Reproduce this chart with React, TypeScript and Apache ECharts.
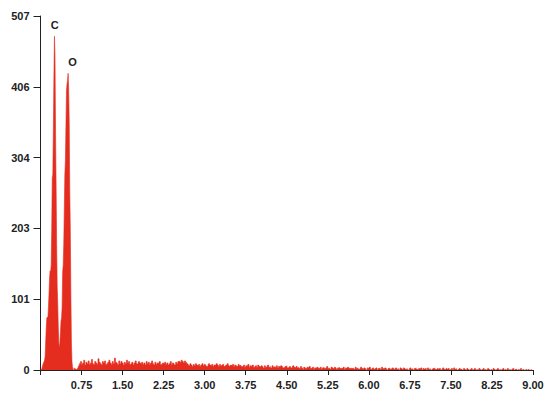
import { useEffect, useRef } from "react";
import * as echarts from "echarts";

// Spectrum channels around the C and O peaks (keV start, step, counts)
const peakStart = 0;
const peakStep = 0.01;
const peakCounts = [
  0, 0, 0, 2, 5, 8, 10, 12, 14, 20,
  40, 60, 74, 76, 74, 90, 108, 130, 142, 140,
  150, 200, 275, 280, 345, 420, 478, 450, 340, 265,
  180, 120, 95, 60, 38, 31, 40, 55, 70, 75,
  90, 140, 150, 180, 230, 280, 300, 350, 400, 410,
  415, 425, 400, 355, 255, 200, 110, 40, 12, 4,
  0, 0, 3, 0, 2, 0, 1, 0, 2, 3,
];

// Background channels after the peaks
const bgStart = 0.7;
const bgStep = 0.02;
const bg1 = [
  6, 9, 12, 8, 10, 14, 7, 11, 9, 13, 8, 10, 15, 9, 7, 12, 10, 8, 16, 11,
  9, 7, 12, 10, 13, 8, 9, 11, 14, 10, 8, 12, 9, 17, 11, 10, 8, 13, 9, 12,
  10, 7, 11, 9, 14, 10, 12, 8, 9, 11,
];
const bg2 = [
  7, 10, 13, 9, 8, 12, 10, 9, 11, 8, 10, 7, 12, 9, 11, 8, 10, 13, 9, 7,
  11, 8, 10, 9, 12, 8, 7, 10, 9, 11, 8, 10, 7, 9, 12, 8, 10, 9, 7, 11,
  9, 12, 13, 11, 14, 12, 10, 13, 11, 9,
];
const bg3 = [
  8, 6, 9, 7, 5, 8, 6, 9, 7, 6, 8, 5, 7, 9, 6, 8, 7, 5, 6, 9,
  7, 6, 8, 5, 7, 6, 9, 7, 5, 8, 6, 7, 8, 5, 6, 7, 9, 6, 5, 7,
  6, 8, 5, 7, 6, 5, 8, 6, 7, 5,
];
const bg4 = [
  5, 7, 4, 6, 5, 8, 4, 6, 5, 7, 4, 5, 6, 4, 7, 5, 4, 6, 5, 3,
  6, 4, 5, 7, 4, 5, 3, 6, 4, 5, 4, 6, 3, 5, 4, 6, 5, 3, 4, 5,
  6, 3, 4, 5, 3, 4, 6, 4, 3, 5,
];
const bg5 = [
  3, 4, 2, 5, 3, 1, 4, 3, 2, 4, 3, 5, 2, 3, 4, 1, 3, 2, 4, 3,
  2, 4, 1, 3, 4, 2, 3, 5, 2, 3, 1, 4, 3, 2, 4, 3, 1, 3, 4, 2,
  3, 2, 4, 1, 3, 2, 4, 3, 2, 3,
];
const bg6 = [
  2, 3, 1, 4, 2, 3, 1, 2, 4, 2, 1, 3, 2, 0, 3, 2, 4, 1, 2, 3,
  1, 2, 3, 0, 2, 3, 1, 4, 2, 1, 3, 2, 0, 2, 3, 1, 2, 3, 1, 2,
  3, 1, 2, 0, 3, 2, 1, 3, 2, 1,
];
const bg7 = [
  2, 0, 1, 3, 1, 2, 0, 2, 3, 1, 0, 2, 1, 3, 0, 2, 1, 2, 0, 3,
  1, 2, 0, 1, 2, 3, 1, 0, 2, 1, 2, 0, 1, 3, 1, 0, 2, 1, 2, 0,
  1, 2, 0, 3, 1, 2, 0, 1, 2, 1,
];
const bg8 = [
  1, 0, 2, 1, 0, 2, 1, 0, 1, 2, 0, 1, 2, 0, 1, 0, 2, 1, 0, 1,
  2, 0, 1, 0, 2, 1, 0, 1, 0, 2, 1, 0, 1, 2, 0, 1, 0, 1, 2, 0,
  1, 0, 2, 0, 1, 0, 1, 2, 0, 1,
];
const bg9 = [1, 0, 1, 0, 2, 0, 1, 0, 0, 1, 0, 1, 0, 0, 1];

const xTickStep = 0.75;
const xMax = 9;
const yMax = 507;
const yTickCount = 5;

const peakLabels = [
  { name: "C", energy: 0.26, counts: 478, dx: 0 },
  { name: "O", energy: 0.51, counts: 425, dx: 4 },
];

const RED = "#e42c1f";
const FONT = "'Liberation Sans Narrow', 'Liberation Sans', Arial, sans-serif";

export default function App() {
  const ref = useRef<HTMLDivElement>(null);
  useEffect(() => {
    if (!ref.current) return;
    const chart = echarts.init(ref.current, undefined, { renderer: "svg" });
    const background = [...bg1, ...bg2, ...bg3, ...bg4, ...bg5, ...bg6, ...bg7, ...bg8, ...bg9];
    const data: [number, number][] = [];
    peakCounts.forEach((c, i) => data.push([+(peakStart + i * peakStep).toFixed(3), c]));
    background.forEach((c, i) => data.push([+(bgStart + i * bgStep).toFixed(3), c]));

    chart.setOption({
      animation: false,
      grid: { left: 40.5, right: 17, top: 16, bottom: 35 },
      xAxis: {
        type: "value",
        min: 0,
        max: xMax,
        interval: xTickStep,
        axisLine: { lineStyle: { color: "#222", width: 1 } },
        axisTick: { length: 5, lineStyle: { color: "#222" } },
        splitLine: { show: false },
        axisLabel: {
          color: "#222",
          fontWeight: "bold",
          fontSize: 11,
          fontFamily: FONT,
          margin: 9,
          formatter: (v: number) => (v === 0 ? "" : v.toFixed(2)),
        },
      },
      yAxis: {
        type: "value",
        min: 0,
        max: yMax,
        interval: yMax / yTickCount,
        axisLine: { show: true, lineStyle: { color: "#222", width: 1 } },
        axisTick: { show: true, length: 7, lineStyle: { color: "#222" } },
        splitLine: { show: false },
        axisLabel: {
          color: "#222",
          fontWeight: "bold",
          fontSize: 11,
          fontFamily: FONT,
          margin: 11,
          formatter: (v: number) => String(Math.round(v)),
        },
      },
      series: [
        {
          type: "line",
          step: "middle",
          symbol: "none",
          data,
          lineStyle: { color: RED, width: 0.6 },
          areaStyle: { color: RED, opacity: 1 },
          markPoint: {
            symbol: "circle",
            symbolSize: 0,
            data: peakLabels.map((p) => ({
              name: p.name,
              coord: [p.energy, p.counts],
              label: {
                show: true,
                position: "top",
                distance: 6,
                offset: [p.dx, 0],
                formatter: "{b}",
                color: "#222",
                fontWeight: "bold",
                fontSize: 11,
                fontFamily: FONT,
              },
            })),
          },
        },
      ],
    });
    return () => chart.dispose();
  }, []);
  return (
    <div
      ref={ref}
      style={{ position: "absolute", left: 0, top: 0, width: 550, height: 405, background: "#fff" }}
    />
  );
}
